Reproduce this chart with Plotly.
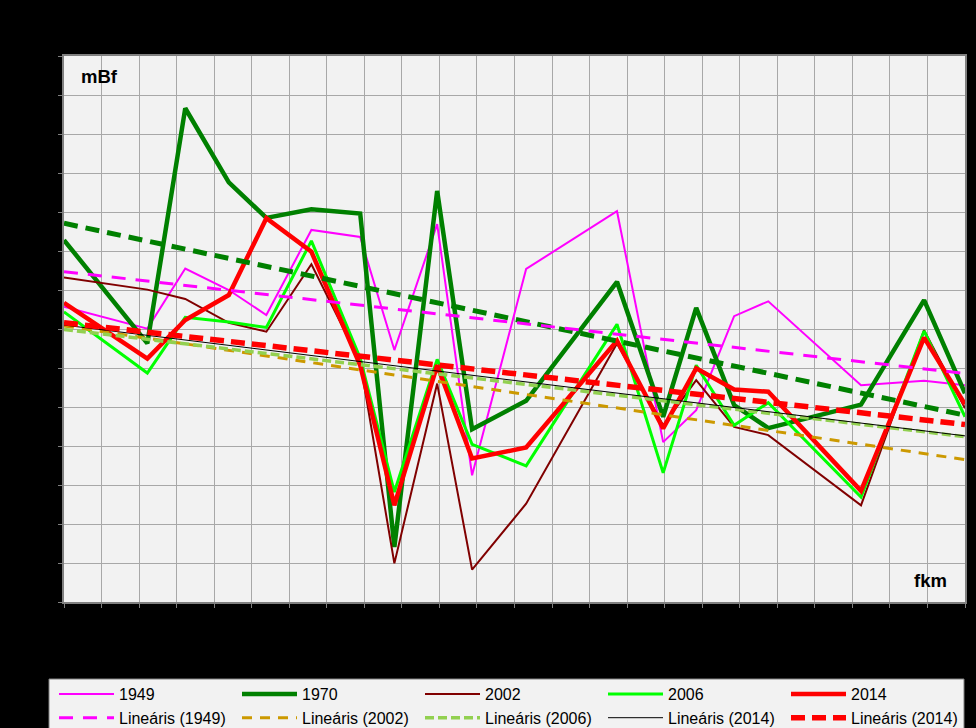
import plotly.graph_objects as go

# x positions along the river (fkm, in grid units of the chart)
fkm = [0.0, 2.22, 3.23, 4.39, 5.39, 6.59, 7.89, 8.80, 9.94, 10.87,
       12.31, 14.73, 15.96, 16.84, 17.85, 18.76, 21.23, 22.91, 24.0]

# water levels (mBf, relative units of the chart grid)
y1949 = [7.57, 7.01, 8.55, 8.00, 7.36, 9.54, 9.36, 6.46, 9.69, 3.25,
         8.54, 10.02, 4.10, 4.92, 7.33, 7.71, 5.56, 5.67, 5.56]
y1970 = [9.28, 6.63, 12.66, 10.76, 9.85, 10.07, 9.96, 1.41, 10.54, 4.43,
         5.16, 8.21, 4.75, 7.54, 5.05, 4.46, 5.06, 7.74, 5.35]
y2002 = [8.32, 8.01, 7.77, 7.16, 6.93, 8.66, 6.15, 0.99, 5.60, 0.83,
         2.52, 6.63, 4.53, 5.69, 4.49, 4.28, 2.48, 6.97, 4.97]
y2006 = [7.44, 5.87, 7.30, 7.18, 7.04, 9.26, 6.25, 2.82, 6.22, 4.04,
         3.49, 7.12, 3.31, 6.07, 4.53, 5.11, 2.69, 6.95, 4.75]
y2014 = [7.67, 6.24, 7.23, 7.87, 9.84, 8.98, 6.07, 2.48, 6.07, 3.68,
         3.96, 6.70, 4.45, 5.99, 5.45, 5.39, 2.85, 6.78, 5.07]

# linear trend lines (start / end values)
trend_x = [0.0, 24.0]
trend_1970 = [9.71, 4.79]
trend_1949 = [8.47, 5.86]
trend_2002 = [7.08, 3.65]
trend_2006 = [6.99, 4.24]
trend_2014_black = [7.10, 4.26]
trend_2014_red = [7.16, 4.55]

fig = go.Figure()

series = [
    ("1949", y1949, "#FF00FF", 2),
    ("1970", y1970, "#008000", 4.5),
    ("2002", y2002, "#800000", 2),
    ("2006", y2006, "#00FF00", 3),
    ("2014", y2014, "#FF0000", 4.5),
]
for name, ys, col, w in series:
    fig.add_trace(go.Scatter(x=fkm, y=ys, mode="lines", name=name,
                             line=dict(color=col, width=w)))

fig.add_trace(go.Scatter(x=trend_x, y=trend_1970, mode="lines", showlegend=False,
                         name="Lineáris (1970)",
                         line=dict(color="#008000", width=5, dash="14px,8px")))
trends = [
    ("Lineáris (1949)", trend_1949, "#FF00FF", 3, "14px,10px"),
    ("Lineáris (2002)", trend_2002, "#CC9900", 3, "10px,8px"),
    ("Lineáris (2006)", trend_2006, "#92D050", 3.5, "9px,4px"),
    ("Lineáris (2014)", trend_2014_black, "#000000", 1, "solid"),
    ("Lineáris (2014)", trend_2014_red, "#FF0000", 5.5, "14px,7px"),
]
for name, ys, col, w, d in trends:
    fig.add_trace(go.Scatter(x=trend_x, y=ys, mode="lines", name=name,
                             line=dict(color=col, width=w, dash=d)))

W, H = 976, 728
L, R, T, B = 64, 11, 56, 126
pw = W - L - R
ph = H - T - B

def px_to_paper_x(px):
    return (px - L) / pw

def px_to_paper_y(py):
    return (H - B - py) / ph

# legend background box
fig.add_shape(type="rect", xref="paper", yref="paper",
              x0=px_to_paper_x(49), x1=px_to_paper_x(964),
              y0=px_to_paper_y(679), y1=px_to_paper_y(745),
              fillcolor="#F2F2F2", line=dict(color="#7F7F7F", width=1),
              layer="below")

fig.add_annotation(text="<b>mBf</b>", xref="paper", yref="paper",
                   x=px_to_paper_x(79), y=px_to_paper_y(77),
                   xanchor="left", yanchor="middle", showarrow=False,
                   font=dict(family="Liberation Sans, Arial", size=18.5, color="black"))
fig.add_annotation(text="<b>fkm</b>", xref="paper", yref="paper",
                   x=px_to_paper_x(949), y=px_to_paper_y(580),
                   xanchor="right", yanchor="middle", showarrow=False,
                   font=dict(family="Liberation Sans, Arial", size=18.5, color="black"))

axis_common = dict(showgrid=True, gridcolor="#A8A8A8", gridwidth=1.2,
                   zeroline=False, showline=True, linecolor="#808080", linewidth=2,
                   mirror=True, ticks="outside", ticklen=4, tickcolor="#808080",
                   showticklabels=False, fixedrange=True)

fig.update_xaxes(range=[0, 24], dtick=1, tick0=0, **axis_common)
fig.update_yaxes(range=[0, 14], dtick=1, tick0=0, **axis_common)

fig.update_layout(
    width=W, height=H,
    margin=dict(l=L, r=R, t=T, b=B, autoexpand=False),
    paper_bgcolor="black",
    plot_bgcolor="#F2F2F2",
    font=dict(family="Liberation Sans, Arial", size=16, color="black"),
    legend=dict(orientation="h", xref="paper", yref="paper",
                x=px_to_paper_x(54), y=px_to_paper_y(677),
                xanchor="left", yanchor="top",
                bgcolor="rgba(0,0,0,0)", borderwidth=0,
                itemwidth=55,
                entrywidth=113, entrywidthmode="pixels",
                font=dict(family="Liberation Sans, Arial", size=16, color="black")),
)

fig.write_html("out.html",
               config={"displayModeBar": False},
               post_script="document.body.style.margin='0px';"
                           "document.body.style.padding='0px';")
